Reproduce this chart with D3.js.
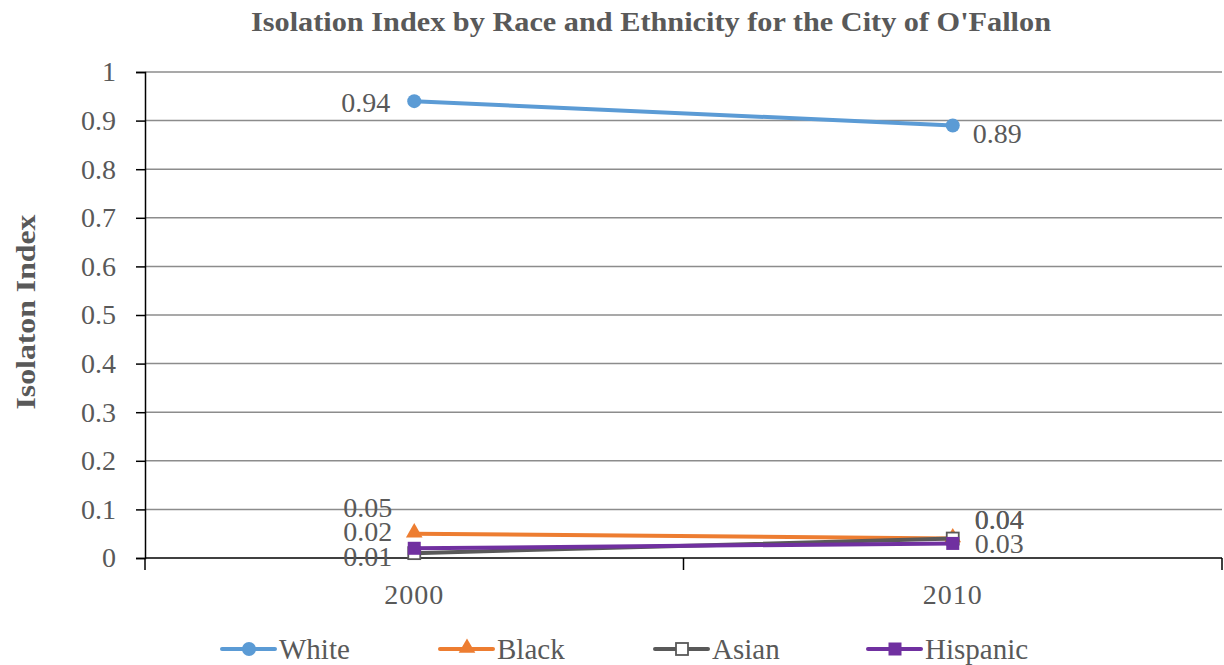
<!DOCTYPE html>
<html lang="en">
<head>
<meta charset="utf-8">
<title>Isolation Index</title>
<script src="https://cdn.jsdelivr.net/npm/d3@7"></script>
<style>
  body { margin: 0; background: #fff; }
  text { font-family: "Liberation Serif", "DejaVu Serif", serif; fill: #595959; }
</style>
</head>
<body>
<script>
// data
var years = ["2000", "2010"];
var seriesNames = ["White", "Black", "Asian", "Hispanic"];
var white = [0.94, 0.89];
var black = [0.05, 0.04];
var asian = [0.01, 0.04];
var hispanic = [0.02, 0.03];
var yTicks = [0, 0.1, 0.2, 0.3, 0.4, 0.5, 0.6, 0.7, 0.8, 0.9, 1];

var colors = { White: "#5B9BD5", Black: "#ED7D31", Asian: "#595959", Hispanic: "#7030A0" };
var valuesByName = { White: white, Black: black, Asian: asian, Hispanic: hispanic };

// where each data label sits relative to its point [dx, dy, anchor]
var labelPlace = {
  White:    [[-24, 11, "end"], [20, 18, "start"]],
  Black:    [[-22, -17, "end"], [22, -10, "start"]],
  Asian:    [[-22, 13, "end"], [22, -10, "start"]],
  Hispanic: [[-22, -7, "end"], [22, 10, "start"]]
};

var W = 1224, H = 665;
var margin = { left: 145, right: 2, top: 72, bottom: 107 };
var fs = "28px";

var svg = d3.select("body").append("svg").attr("width", W).attr("height", H);

var x = d3.scaleBand().domain(years).range([margin.left, W - margin.right]);
var y = d3.scaleLinear().domain([0, 1]).range([H - margin.bottom, margin.top]);

// title
svg.append("text")
  .attr("x", 651).attr("y", 31)
  .attr("text-anchor", "middle")
  .attr("textLength", 800).attr("lengthAdjust", "spacingAndGlyphs")
  .style("font-size", "27px").style("font-weight", "bold")
  .text("Isolation Index by Race and Ethnicity for the City of O'Fallon");

// y title
svg.append("text")
  .attr("transform", "translate(35," + (y(0.5) - 3) + ") rotate(-90)")
  .attr("text-anchor", "middle")
  .attr("textLength", 195).attr("lengthAdjust", "spacingAndGlyphs")
  .style("font-size", "28px").style("font-weight", "bold")
  .text("Isolaton Index");

// gridlines
svg.append("g").selectAll("line")
  .data(yTicks.filter(function(d) { return d > 0; }))
  .enter().append("line")
  .attr("x1", margin.left).attr("x2", W - margin.right)
  .attr("y1", function(d) { return y(d); }).attr("y2", function(d) { return y(d); })
  .attr("stroke", "#8c8c8c").attr("stroke-width", 1.5);

// y axis
var yAxis = svg.append("g")
  .attr("transform", "translate(" + margin.left + ",0)")
  .call(d3.axisLeft(y).tickValues(yTicks).tickSize(9).tickPadding(20)
    .tickFormat(function(d) { return d3.format("")(d); }));
yAxis.select(".domain").attr("stroke", "#000").attr("stroke-width", 1.5);
yAxis.selectAll(".tick line").attr("stroke", "#000").attr("stroke-width", 1.5);
yAxis.selectAll("text").style("font-size", fs).style("font-family", "Liberation Serif").attr("fill", "#595959");

// x axis
var xAxisG = svg.append("g").attr("transform", "translate(0," + y(0) + ")");
xAxisG.append("line")
  .attr("x1", margin.left).attr("x2", W - margin.right)
  .attr("stroke", "#000").attr("stroke-width", 1.5);
var boundaries = [margin.left].concat(years.map(function(d) { return x(d) + x.bandwidth(); }));
xAxisG.selectAll(".xt").data(boundaries).enter().append("line")
  .attr("x1", function(d) { return d; }).attr("x2", function(d) { return d; })
  .attr("y1", 0).attr("y2", 12)
  .attr("stroke", "#000").attr("stroke-width", 1.5);
xAxisG.selectAll(".xl").data(years).enter().append("text")
  .attr("x", function(d) { return x(d) + x.bandwidth() / 2; })
  .attr("y", 46)
  .attr("text-anchor", "middle")
  .style("font-size", fs)
  .style("letter-spacing", "1px")
  .text(function(d) { return d; });

function cx(i) { return x(years[i]) + x.bandwidth() / 2; }

function marker(g, name, px, py) {
  if (name === "White") {
    g.append("circle").attr("cx", px).attr("cy", py).attr("r", 7).attr("fill", colors.White);
  } else if (name === "Black") {
    g.append("path")
      .attr("d", d3.symbol().type(d3.symbolTriangle).size(120)())
      .attr("transform", "translate(" + px + "," + (py - 1) + ")")
      .attr("fill", colors.Black);
  } else if (name === "Asian") {
    g.append("rect").attr("x", px - 6).attr("y", py - 6)
      .attr("width", 12).attr("height", 12)
      .attr("fill", "#fff").attr("stroke", colors.Asian).attr("stroke-width", 1.8);
  } else {
    g.append("rect").attr("x", px - 6.5).attr("y", py - 6.5)
      .attr("width", 13).attr("height", 13)
      .attr("fill", colors.Hispanic);
  }
}

var line = d3.line()
  .x(function(d, i) { return cx(i); })
  .y(function(d) { return y(d); });

seriesNames.forEach(function(name) {
  var vals = valuesByName[name];
  var g = svg.append("g");
  g.append("path").datum(vals)
    .attr("d", line)
    .attr("fill", "none")
    .attr("stroke", colors[name])
    .attr("stroke-width", 4)
    .attr("stroke-linecap", "round");
  vals.forEach(function(v, i) { marker(g, name, cx(i), y(v)); });
});

// data labels
seriesNames.forEach(function(name) {
  valuesByName[name].forEach(function(v, i) {
    var p = labelPlace[name][i];
    svg.append("text")
      .attr("x", cx(i) + p[0]).attr("y", y(v) + p[1])
      .attr("text-anchor", p[2])
      .style("font-size", fs)
      .text(d3.format(".2f")(v));
  });
});

// legend
var legendX = [222, 440, 655, 868];
var legend = svg.append("g");
seriesNames.forEach(function(name, i) {
  var lx = legendX[i], ly = 649;
  legend.append("line")
    .attr("x1", lx).attr("x2", lx + 53).attr("y1", ly).attr("y2", ly)
    .attr("stroke", colors[name]).attr("stroke-width", 4).attr("stroke-linecap", "round");
  marker(legend, name, lx + 27, ly);
  legend.append("text")
    .attr("x", lx + 57).attr("y", ly + 10)
    .style("font-size", "29px")
    .text(name);
});
</script>
</body>
</html>
